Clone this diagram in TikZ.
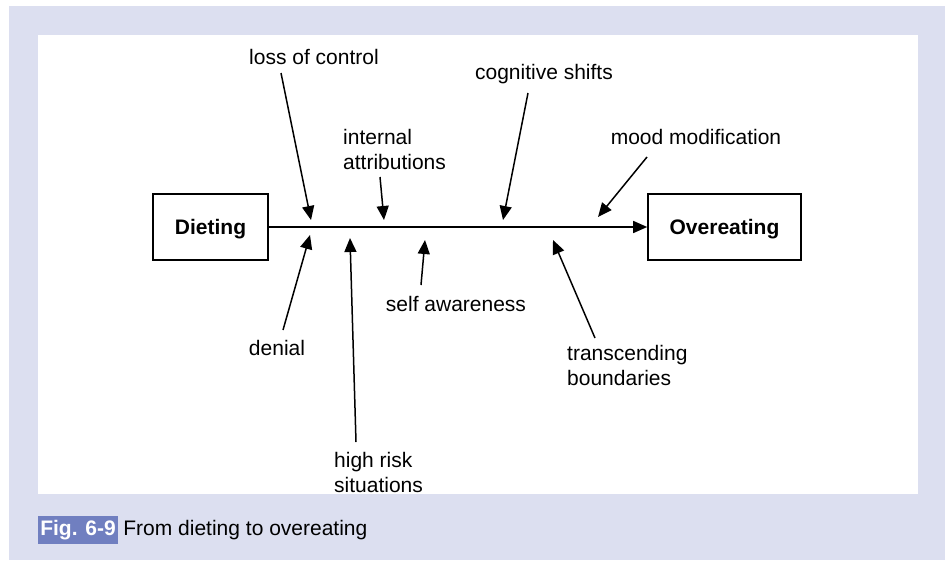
\documentclass[tikz,border=0pt]{standalone}
\usepackage{fontspec}
\setmainfont{Liberation Sans}
\usetikzlibrary{arrows.meta,positioning}

\definecolor{panelbg}{RGB}{220,223,240}
\definecolor{figblue}{RGB}{112,127,192}

\tikzset{
  stagebox/.style={draw,line width=1.6pt,minimum width=115pt,minimum height=66pt,text height=15pt,text depth=0pt,font=\fontsize{21}{25}\selectfont\bfseries},
  lbl/.style={inner sep=0pt,font=\fontsize{21}{25}\selectfont,align=left},
  cause/.style={line width=1.5pt,-{Triangle[length=14pt,width=12pt]}}
}

\begin{document}
\begin{tikzpicture}[x=1pt,y=-1pt]
\useasboundingbox (0,0) rectangle (945,560);
\fill[panelbg] (9,6) rectangle (945,560);
\fill[white] (38,35) rectangle (918,494);

\node[stagebox] (diet) at (210.5,227) {Dieting};
\node[stagebox,minimum width=153pt] (over) at (724.5,227) {Overeating};
\draw[cause] (diet.east) -- (over.west);

\node[lbl] (loss) at (314,57) {loss of control};
\node[lbl,anchor=west] (intern) at (343,149.5) {internal\\attributions};
\node[lbl] (cogn) at (544,74) {cognitive shifts};
\node[lbl] (mood) at (696,137) {mood modification};
\node[lbl] (denial) at (277,348) {denial};
\node[lbl,anchor=west] (risk) at (334,472.5) {high risk\\situations};
\node[lbl] (self) at (456,304) {self awareness};
\node[lbl,anchor=west] (trans) at (567,365) {transcending\\boundaries};

\foreach \nm/\sx/\sy/\tx/\ty in
  {loss/281/73/311/220, intern/380/177/384/220, cogn/528/93/503/220,
   mood/647/157/598/217, denial/283/330/310/235, risk/356/442/350/238,
   self/421/285/425/240, trans/595/338/553/240}
  {
  \coordinate (\nm-s) at (\sx,\sy);
  \coordinate (\nm-t) at (\tx,\ty);
  \draw[cause] (\nm-s) -- (\nm-t);
  }

\node[fill=figblue,text=white,minimum width=80pt,minimum height=28pt,inner sep=0pt,font=\fontsize{21}{25}\selectfont\bfseries] (fig) at (78,530) {Fig. 6-9};
\node[lbl,anchor=west] (cap) at ([xshift=5pt]fig.east) {From dieting to overeating};
\end{tikzpicture}
\end{document}
